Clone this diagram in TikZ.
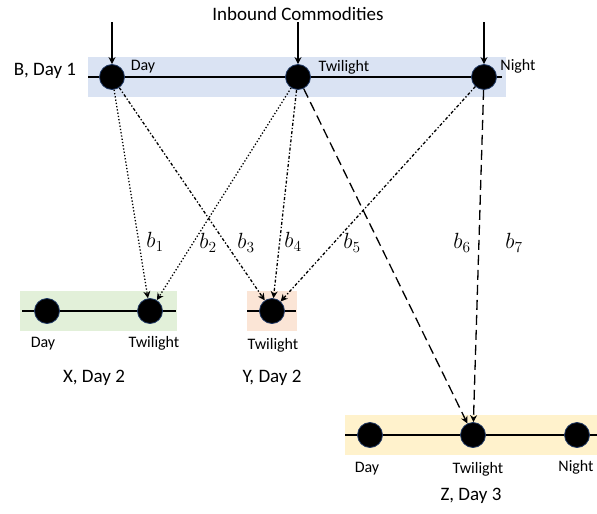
\RequirePackage{fix-cm}
\documentclass[tikz,border=0pt]{standalone}
\usepackage{fontspec}
\setmainfont{Carlito}
\usepackage{amsmath}
\usetikzlibrary{arrows.meta}

\definecolor{bandB}{RGB}{218,227,243}
\definecolor{bandX}{RGB}{226,240,217}
\definecolor{bandY}{RGB}{251,229,214}
\definecolor{bandZ}{RGB}{255,242,204}
\definecolor{rim}{RGB}{31,56,100}

\begin{document}
\begin{tikzpicture}[x=1pt,y=-1pt]
\tikzstyle{every node}+=[inner sep=0pt]
\tikzstyle{slot}=[circle,fill=black,draw=rim,line width=0.8pt,minimum size=25pt]
\tikzstyle{lbl}=[font=\fontsize{16}{19}\selectfont]
\tikzstyle{big}=[font=\fontsize{19}{23}\selectfont]
\tikzstyle{arclbl}=[font=\fontsize{22}{26}\selectfont]
\tikzstyle{flow}=[-{Stealth[length=7pt,width=7pt]},line width=1.3pt]

\useasboundingbox (0,0) rectangle (597,514);

% bands
\fill [bandB] (88,57) rectangle (506,97);
\fill [bandX] (20,291) rectangle (177,331);
\fill [bandY] (247,291) rectangle (297,331);
\fill [bandZ] (345,415) rectangle (597,455);
\draw [line width=1.3pt] (88,77) -- (502,77);
\draw [line width=1.3pt] (22,311) -- (176,311);
\draw [line width=1.3pt] (247,311) -- (296,311);
\draw [line width=1.3pt] (345,435) -- (597,435);

% B, Day 1
\node [slot] (bday) at (112,77) {};
\node [slot] (btw) at (298,77) {};
\node [slot] (bnight) at (484,77) {};
\node [lbl] (tbday) at (143,67) {Day};
\node [lbl] (tbtw) at (344,67) {Twilight};
\node [lbl] (tbnight) at (518,66) {Night};
\node [big] (tb) at (45,71) {B, Day 1};
\node [big] (tin) at (298,14) {Inbound Commodities};
\coordinate (in1) at (112,22);
\coordinate (in2) at (298,22);
\coordinate (in3) at (484,22);
\draw [flow] (in1) -- (bday);
\draw [flow] (in2) -- (btw);
\draw [flow] (in3) -- (bnight);

% X, Day 2
\node [slot] (xday) at (47,311) {};
\node [slot] (xtw) at (150,311) {};
\node [lbl] (txday) at (43,344) {Day};
\node [lbl] (txtw) at (154,343) {Twilight};
\node [big] (tx) at (94,378) {X, Day 2};

% Y, Day 2
\node [slot] (ytw) at (272,311) {};
\node [lbl] (tytw) at (273,345) {Twilight};
\node [big] (ty) at (272,378) {Y, Day 2};

% Z, Day 3
\node [slot] (zday) at (370,435) {};
\node [slot] (ztw) at (473,435) {};
\node [slot] (znight) at (577,435) {};
\node [lbl] (tzday) at (367,469) {Day};
\node [lbl] (tztw) at (478,469) {Twilight};
\node [lbl] (tznight) at (576,467) {Night};
\node [big] (tz) at (471,496) {Z, Day 3};

% flows
\draw [flow,dotted] (bday) -- (xtw);
\draw [flow,dotted] (btw) -- (xtw);
\draw [flow,dash dot] (bday) -- (ytw);
\draw [flow,dash dot] (btw) -- (ytw);
\draw [flow,dash dot] (bnight) -- (ytw);
\draw [flow,dash pattern=on 10pt off 5pt] (btw) -- (ztw);
\draw [flow,dash pattern=on 10pt off 5pt] (bnight) -- (ztw);

\node [arclbl] (lb1) at (155,242) {$b_1$};
\node [arclbl] (lb2) at (208,243) {$b_2$};
\node [arclbl] (lb3) at (246,243) {$b_3$};
\node [arclbl] (lb4) at (293,242) {$b_4$};
\node [arclbl] (lb5) at (352,243) {$b_5$};
\node [arclbl] (lb6) at (462,243) {$b_6$};
\node [arclbl] (lb7) at (514,243) {$b_7$};
\end{tikzpicture}
\end{document}
